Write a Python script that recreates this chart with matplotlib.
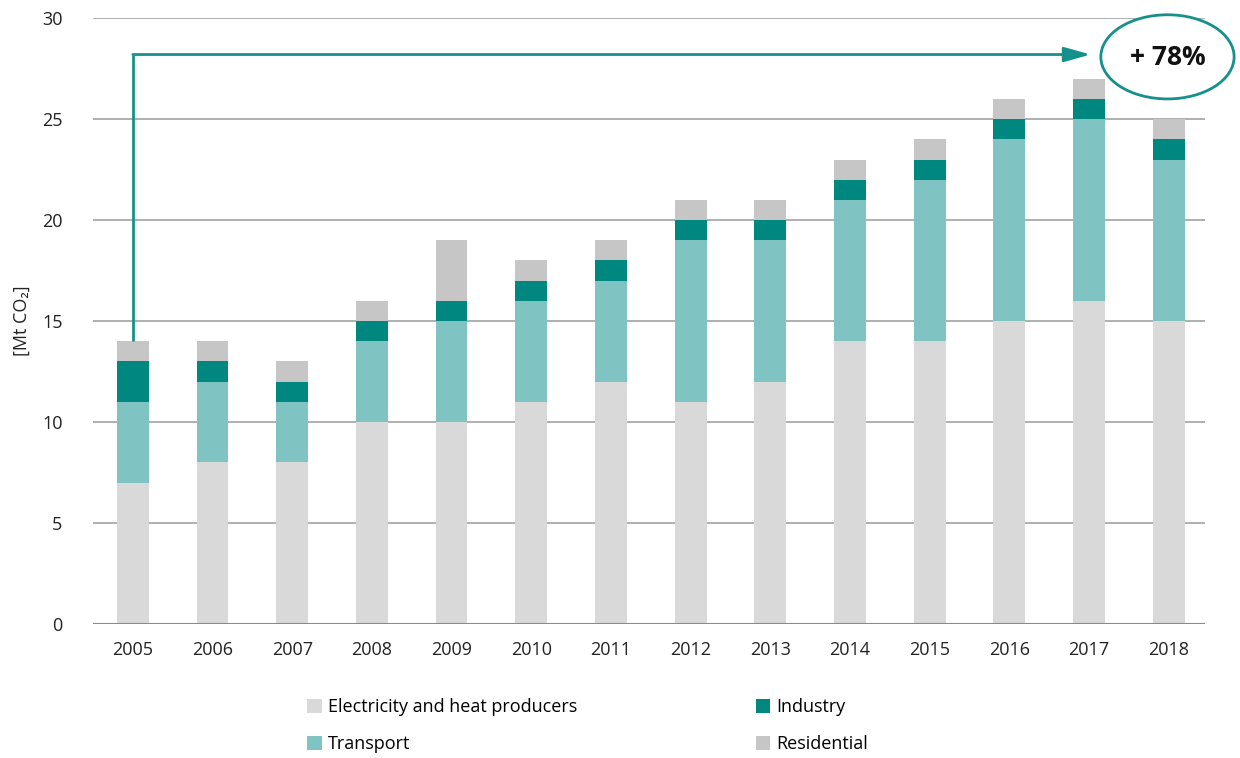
import matplotlib.pyplot as plt
from matplotlib.patches import Ellipse

years = [str(y) for y in range(2005, 2019)]
electricity = [7, 8, 8, 10, 10, 11, 12, 11, 12, 14, 14, 15, 16, 15]
transport = [4, 4, 3, 4, 5, 5, 5, 8, 7, 7, 8, 9, 9, 8]
industry = [2, 1, 1, 1, 1, 1, 1, 1, 1, 1, 1, 1, 1, 1]
residential = [1, 1, 1, 1, 3, 1, 1, 1, 1, 1, 1, 1, 1, 1]
growth_label = "+ 78%"

plt.rcParams['font.family'] = ['Open Sans', 'DejaVu Sans']
colors = {
    "Electricity and heat producers": "#d9d9d9",
    "Transport": "#7fc3c3",
    "Industry": "#00877f",
    "Residential": "#c5c6c5",
}
teal_line = "#16908a"

fig = plt.figure(figsize=(12.4, 7.58), dpi=100)
ax = fig.add_axes([0.075, 0.177, 0.897, 0.799])

x = list(range(len(years)))
bottom = [0] * len(years)
series = [("Electricity and heat producers", electricity),
          ("Transport", transport),
          ("Industry", industry),
          ("Residential", residential)]
for name, vals in series:
    ax.bar(x, vals, width=0.4, bottom=bottom, color=colors[name], label=name, zorder=3)
    bottom = [b + v for b, v in zip(bottom, vals)]

ax.set_xlim(-0.5, 13.46)
ax.set_ylim(0, 30)
ax.set_yticks(range(0, 31, 5))
ax.set_xticks(x)
ax.set_xticklabels(years)
ax.tick_params(axis='both', length=0, labelsize=13, colors="#222222")
ax.tick_params(axis='y', pad=22)
ax.tick_params(axis='x', pad=12)
ax.grid(axis='y', color="#9a9a9a", linewidth=1.1, zorder=0)
for s in ax.spines.values():
    s.set_visible(False)
ax.axhline(0, color="#8a8a8a", linewidth=1.5, zorder=4)
ax.set_ylabel("[Mt CO₂]", fontsize=13, color="#222222", labelpad=8)

# growth arrow from the first year's bar up and across to the last year
top_first = bottom[0]
ax.plot([0, 0], [top_first, 28.2], color=teal_line, linewidth=2, zorder=5,
        solid_capstyle='butt')
ax.annotate("", xy=(12.02, 28.2), xytext=(0, 28.2),
            arrowprops=dict(arrowstyle="-|>,head_length=1.6,head_width=0.45",
                            color=teal_line, linewidth=2, shrinkA=0, shrinkB=0),
            zorder=5)
ell = Ellipse((0.9415, 0.925), width=0.1075, height=0.111, transform=fig.transFigure,
              facecolor="white", edgecolor=teal_line, linewidth=2, zorder=6)
fig.patches.append(ell)
fig.text(0.9415, 0.924, growth_label, ha='center', va='center', fontsize=19,
         fontweight='bold', color="#111111", zorder=7)

ax.legend(loc='upper left', bbox_to_anchor=(0.186, -0.111), ncol=2, frameon=False,
          fontsize=13, handlelength=0.8, handleheight=0.8, handletextpad=0.35,
          columnspacing=9.9, labelspacing=1.05, borderaxespad=0)

fig.savefig("out.png", dpi=100)
